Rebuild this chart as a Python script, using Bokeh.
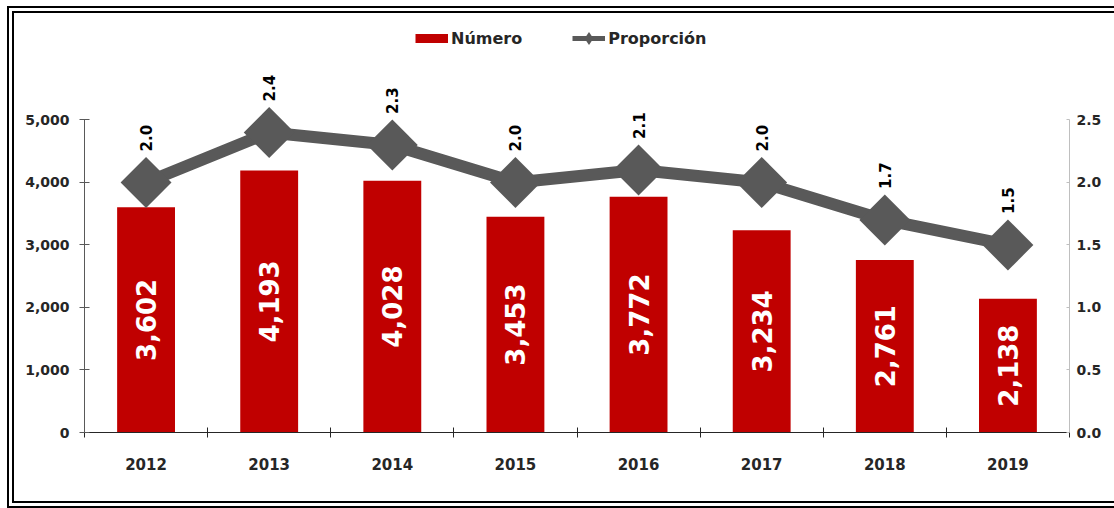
import math
from bokeh.plotting import figure
from bokeh.models import (Range1d, LinearAxis, FixedTicker, NumeralTickFormatter,
                          ColumnDataSource, Legend, LegendItem)
from bokeh.embed import file_html
from bokeh.resources import INLINE
from bokeh.core.properties import value

years = ["2012", "2013", "2014", "2015", "2016", "2017", "2018", "2019"]
numero = [3602, 4193, 4028, 3453, 3772, 3234, 2761, 2138]
proporcion = [2.0, 2.4, 2.3, 2.0, 2.1, 2.0, 1.7, 1.5]
left_ticks = [0, 1000, 2000, 3000, 4000, 5000]
right_ticks = [0.0, 0.5, 1.0, 1.5, 2.0, 2.5]

FONT = "DejaVu Sans"
RED = "#C00000"
GREY = "#595959"
DARK = "#262626"

xs = [i + 0.5 for i in range(len(years))]
src = ColumnDataSource(dict(
    x=xs,
    numero=numero,
    mid=[v / 2 for v in numero],
    nlab=[f"{v:,}" for v in numero],
    prop=proporcion,
    plab=[f"{v:.1f}" for v in proporcion],
))

FRAME_H = 411
LEG_H = 34
Y_END = 5000 * FRAME_H / 311
p = figure(width=1107, height=502, output_backend="svg", toolbar_location=None,
           x_range=Range1d(0, len(years)), y_range=Range1d(0, Y_END),
           min_border_left=70, min_border_right=52, min_border_top=6,
           min_border_bottom=83)
p.extra_y_ranges = {"prop": Range1d(0, Y_END / 2000)}
p.outline_line_color = None
p.grid.visible = False
p.background_fill_color = "white"
p.border_fill_color = "white"
p.styles = {"border-left": "7px double #000", "border-top": "7px double #000",
            "border-bottom": "7px double #000",
            "margin-left": "7px", "margin-top": "6px"}

# x axis
xa = p.xaxis[0]
xa.ticker = FixedTicker(ticks=xs, minor_ticks=list(range(len(years) + 1)))
xa.major_label_overrides = {x: y for x, y in zip(xs, years)}
xa.major_tick_in = 0
xa.major_tick_out = 0
xa.minor_tick_in = 5
xa.minor_tick_out = 5
xa.minor_tick_line_color = "#262626"
xa.axis_line_color = "#262626"
xa.major_label_standoff = 20
xa.major_label_text_font = FONT
xa.major_label_text_font_style = "bold"
xa.major_label_text_font_size = "15px"
xa.major_label_text_color = DARK

# left axis
ya = p.yaxis[0]
ya.ticker = FixedTicker(ticks=left_ticks)
ya.formatter = NumeralTickFormatter(format="0,0")
ya.bounds = (0, 5000)
ya.minor_tick_line_color = None
ya.major_tick_in = 5
ya.major_tick_out = 5
ya.axis_line_color = GREY
ya.major_tick_line_color = GREY
ya.major_label_standoff = 10
ya.major_label_text_font = FONT
ya.major_label_text_font_style = "bold"
ya.major_label_text_font_size = "14px"
ya.major_label_text_color = DARK

# right axis
ra = LinearAxis(y_range_name="prop", ticker=FixedTicker(ticks=right_ticks),
                formatter=NumeralTickFormatter(format="0.0"), bounds=(0, 2.5))
ra.minor_tick_line_color = None
ra.major_tick_in = 3
ra.major_tick_out = 0
ra.axis_line_color = "#bfbfbf"
ra.major_tick_line_color = "#bfbfbf"
ra.major_label_standoff = 7
ra.major_label_text_font = FONT
ra.major_label_text_font_style = "bold"
ra.major_label_text_font_size = "14px"
ra.major_label_text_color = DARK
p.add_layout(ra, "right")

# bars
p.vbar(x="x", top="numero", width=0.47, source=src, fill_color=RED, line_color=None)
p.text(x="x", y="mid", text="nlab", source=src, angle=math.pi / 2,
       text_align="center", text_baseline="middle", text_color="white",
       text_font=value(FONT), text_font_style="bold", text_font_size="26px")

# line
p.line(x="x", y="prop", source=src, y_range_name="prop", line_width=12,
       line_color=GREY, line_join="round")
p.scatter(x="x", y="prop", source=src, y_range_name="prop", marker="square",
          angle=math.pi / 4, size=36, fill_color=GREY, line_color=None)
p.text(x="x", y="prop", text="plab", source=src, y_range_name="prop",
       angle=math.pi / 2, y_offset=-31, text_align="left", text_baseline="middle",
       text_color="black", text_font=value(FONT), text_font_style="bold",
       text_font_size="15px")

# legend proxies (single off-range point so the legend has a colour to draw)
nan = float("nan")
lg_bar = p.line(x=[nan], y=[nan], line_width=9, line_color=RED)
lg_line = p.line(x=[nan], y=[nan], line_width=5, line_color=GREY)
lg_mark = p.scatter(x=[nan], y=[nan], marker="diamond",
                    fill_color=GREY, line_color=None)
legend = Legend(items=[LegendItem(label="Número", renderers=[lg_bar]),
                       LegendItem(label="Proporción", renderers=[lg_line, lg_mark])],
                orientation="horizontal", location=(331, FRAME_H - LEG_H),
                glyph_width=33, glyph_height=LEG_H, label_standoff=3, spacing=50,
                padding=0, margin=0, border_line_color=None,
                background_fill_alpha=0,
                label_text_font=FONT, label_text_font_style="bold",
                label_text_font_size="16px", label_text_color=DARK)
p.add_layout(legend, "center")

open("out.html", "w").write(file_html(p, INLINE))
